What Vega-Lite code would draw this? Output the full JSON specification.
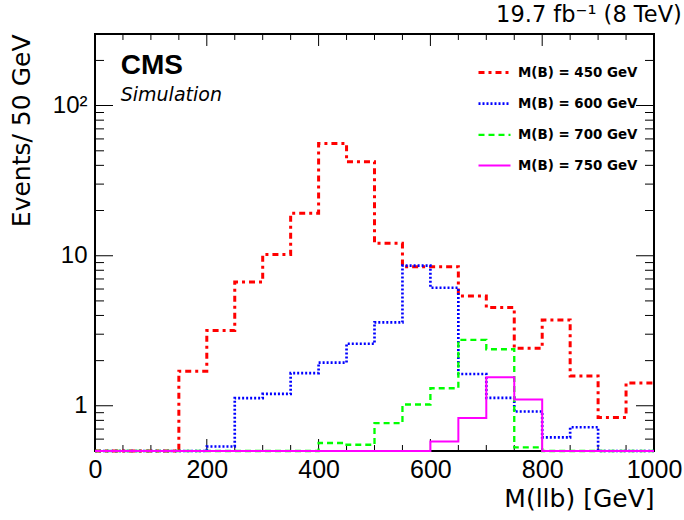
{
  "$schema": "https://vega.github.io/schema/vega-lite/v6.json",
  "autosize": {"type": "none"},
  "padding": {"left": 95, "top": 34, "right": 30, "bottom": 69},
  "width": 559,
  "height": 417,
  "config": {
    "font": "Liberation Sans",
    "view": {"stroke": "black", "strokeWidth": 2},
    "axis": {"grid": false, "domain": false, "ticks": false, "labelColor": "black", "titleColor": "black", "labelFont": "Liberation Sans", "titleFont": "DejaVu Sans", "labelFlush": false, "labelOverlap": false}
  },
  "title": {"text": "19.7 fb⁻¹ (8 TeV)", "anchor": "end", "fontSize": 22.5, "fontWeight": "normal", "font": "DejaVu Sans", "color": "black", "offset": 7},
  "datasets": {
    "hist": [
      {"s": "M(B) = 450 GeV", "x": 0, "y": 0.5},
      {"s": "M(B) = 450 GeV", "x": 50, "y": 0.5},
      {"s": "M(B) = 450 GeV", "x": 100, "y": 0.5},
      {"s": "M(B) = 450 GeV", "x": 150, "y": 1.7},
      {"s": "M(B) = 450 GeV", "x": 200, "y": 3.17},
      {"s": "M(B) = 450 GeV", "x": 250, "y": 6.68},
      {"s": "M(B) = 450 GeV", "x": 300, "y": 10.2},
      {"s": "M(B) = 450 GeV", "x": 350, "y": 19.2},
      {"s": "M(B) = 450 GeV", "x": 400, "y": 56},
      {"s": "M(B) = 450 GeV", "x": 450, "y": 42.2},
      {"s": "M(B) = 450 GeV", "x": 500, "y": 12.1},
      {"s": "M(B) = 450 GeV", "x": 550, "y": 8.45},
      {"s": "M(B) = 450 GeV", "x": 600, "y": 8.45},
      {"s": "M(B) = 450 GeV", "x": 650, "y": 5.4},
      {"s": "M(B) = 450 GeV", "x": 700, "y": 4.51},
      {"s": "M(B) = 450 GeV", "x": 750, "y": 2.42},
      {"s": "M(B) = 450 GeV", "x": 800, "y": 3.73},
      {"s": "M(B) = 450 GeV", "x": 850, "y": 1.58},
      {"s": "M(B) = 450 GeV", "x": 900, "y": 0.836},
      {"s": "M(B) = 450 GeV", "x": 950, "y": 1.42},
      {"s": "M(B) = 450 GeV", "x": 1000, "y": 1.42},
      {"s": "M(B) = 600 GeV", "x": 0, "y": 0.5},
      {"s": "M(B) = 600 GeV", "x": 50, "y": 0.5},
      {"s": "M(B) = 600 GeV", "x": 100, "y": 0.5},
      {"s": "M(B) = 600 GeV", "x": 150, "y": 0.5},
      {"s": "M(B) = 600 GeV", "x": 200, "y": 0.536},
      {"s": "M(B) = 600 GeV", "x": 250, "y": 1.125},
      {"s": "M(B) = 600 GeV", "x": 300, "y": 1.2},
      {"s": "M(B) = 600 GeV", "x": 350, "y": 1.65},
      {"s": "M(B) = 600 GeV", "x": 400, "y": 1.94},
      {"s": "M(B) = 600 GeV", "x": 450, "y": 2.59},
      {"s": "M(B) = 600 GeV", "x": 500, "y": 3.6},
      {"s": "M(B) = 600 GeV", "x": 550, "y": 8.59},
      {"s": "M(B) = 600 GeV", "x": 600, "y": 6.12},
      {"s": "M(B) = 600 GeV", "x": 650, "y": 1.63},
      {"s": "M(B) = 600 GeV", "x": 700, "y": 1.13},
      {"s": "M(B) = 600 GeV", "x": 750, "y": 0.916},
      {"s": "M(B) = 600 GeV", "x": 800, "y": 0.616},
      {"s": "M(B) = 600 GeV", "x": 850, "y": 0.72},
      {"s": "M(B) = 600 GeV", "x": 900, "y": 0.5},
      {"s": "M(B) = 600 GeV", "x": 950, "y": 0.5},
      {"s": "M(B) = 600 GeV", "x": 1000, "y": 0.5},
      {"s": "M(B) = 700 GeV", "x": 0, "y": 0.5},
      {"s": "M(B) = 700 GeV", "x": 50, "y": 0.5},
      {"s": "M(B) = 700 GeV", "x": 100, "y": 0.5},
      {"s": "M(B) = 700 GeV", "x": 150, "y": 0.5},
      {"s": "M(B) = 700 GeV", "x": 200, "y": 0.5},
      {"s": "M(B) = 700 GeV", "x": 250, "y": 0.5},
      {"s": "M(B) = 700 GeV", "x": 300, "y": 0.5},
      {"s": "M(B) = 700 GeV", "x": 350, "y": 0.5},
      {"s": "M(B) = 700 GeV", "x": 400, "y": 0.565},
      {"s": "M(B) = 700 GeV", "x": 450, "y": 0.55},
      {"s": "M(B) = 700 GeV", "x": 500, "y": 0.767},
      {"s": "M(B) = 700 GeV", "x": 550, "y": 1.02},
      {"s": "M(B) = 700 GeV", "x": 600, "y": 1.31},
      {"s": "M(B) = 700 GeV", "x": 650, "y": 2.75},
      {"s": "M(B) = 700 GeV", "x": 700, "y": 2.38},
      {"s": "M(B) = 700 GeV", "x": 750, "y": 0.528},
      {"s": "M(B) = 700 GeV", "x": 800, "y": 0.5},
      {"s": "M(B) = 700 GeV", "x": 850, "y": 0.5},
      {"s": "M(B) = 700 GeV", "x": 900, "y": 0.5},
      {"s": "M(B) = 700 GeV", "x": 950, "y": 0.5},
      {"s": "M(B) = 700 GeV", "x": 1000, "y": 0.5},
      {"s": "M(B) = 750 GeV", "x": 0, "y": 0.5},
      {"s": "M(B) = 750 GeV", "x": 50, "y": 0.5},
      {"s": "M(B) = 750 GeV", "x": 100, "y": 0.5},
      {"s": "M(B) = 750 GeV", "x": 150, "y": 0.5},
      {"s": "M(B) = 750 GeV", "x": 200, "y": 0.5},
      {"s": "M(B) = 750 GeV", "x": 250, "y": 0.5},
      {"s": "M(B) = 750 GeV", "x": 300, "y": 0.5},
      {"s": "M(B) = 750 GeV", "x": 350, "y": 0.5},
      {"s": "M(B) = 750 GeV", "x": 400, "y": 0.5},
      {"s": "M(B) = 750 GeV", "x": 450, "y": 0.5},
      {"s": "M(B) = 750 GeV", "x": 500, "y": 0.5},
      {"s": "M(B) = 750 GeV", "x": 550, "y": 0.5},
      {"s": "M(B) = 750 GeV", "x": 600, "y": 0.579},
      {"s": "M(B) = 750 GeV", "x": 650, "y": 0.828},
      {"s": "M(B) = 750 GeV", "x": 700, "y": 1.55},
      {"s": "M(B) = 750 GeV", "x": 750, "y": 1.1},
      {"s": "M(B) = 750 GeV", "x": 800, "y": 0.5},
      {"s": "M(B) = 750 GeV", "x": 850, "y": 0.5},
      {"s": "M(B) = 750 GeV", "x": 900, "y": 0.5},
      {"s": "M(B) = 750 GeV", "x": 950, "y": 0.5},
      {"s": "M(B) = 750 GeV", "x": 1000, "y": 0.5}
    ],
    "xmajor": [{"x": 200}, {"x": 400}, {"x": 600}, {"x": 800}],
    "xminor": [{"x": 50}, {"x": 100}, {"x": 150}, {"x": 250}, {"x": 300}, {"x": 350}, {"x": 450}, {"x": 500}, {"x": 550}, {"x": 650}, {"x": 700}, {"x": 750}, {"x": 850}, {"x": 900}, {"x": 950}],
    "ymajor": [{"y": 1}, {"y": 10}, {"y": 100}],
    "yminor": [{"y": 0.6}, {"y": 0.7}, {"y": 0.8}, {"y": 0.9}, {"y": 2}, {"y": 3}, {"y": 4}, {"y": 5}, {"y": 6}, {"y": 7}, {"y": 8}, {"y": 9}, {"y": 20}, {"y": 30}, {"y": 40}, {"y": 50}, {"y": 60}, {"y": 70}, {"y": 80}, {"y": 90}, {"y": 200}]
  },
  "layer": [
    {
      "data": {"name": "ymajor"},
      "mark": {"type": "tick", "orient": "horizontal", "clip": true, "color": "black", "thickness": 1, "size": 36, "opacity": 1},
      "encoding": {
        "x": {"datum": 0, "type": "quantitative", "scale": {"domain": [0, 1000], "nice": false, "zero": false}},
        "y": {"field": "y", "type": "quantitative", "scale": {"type": "log", "domain": [0.5, 300], "nice": false}}
      }
    },
    {
      "data": {"name": "yminor"},
      "mark": {"type": "tick", "orient": "horizontal", "clip": true, "color": "black", "thickness": 1, "size": 18, "opacity": 1},
      "encoding": {"x": {"datum": 0, "type": "quantitative"}, "y": {"field": "y", "type": "quantitative"}}
    },
    {
      "data": {"name": "ymajor"},
      "mark": {"type": "tick", "orient": "horizontal", "clip": true, "color": "black", "thickness": 1, "size": 36, "opacity": 1},
      "encoding": {"x": {"datum": 1000, "type": "quantitative"}, "y": {"field": "y", "type": "quantitative"}}
    },
    {
      "data": {"name": "yminor"},
      "mark": {"type": "tick", "orient": "horizontal", "clip": true, "color": "black", "thickness": 1, "size": 18, "opacity": 1},
      "encoding": {"x": {"datum": 1000, "type": "quantitative"}, "y": {"field": "y", "type": "quantitative"}}
    },
    {
      "data": {"name": "xmajor"},
      "mark": {"type": "rule", "color": "black", "strokeWidth": 1, "opacity": 1},
      "encoding": {"x": {"field": "x", "type": "quantitative"}, "y": {"datum": 0.5, "type": "quantitative"}, "y2": {"datum": 0.601}}
    },
    {
      "data": {"name": "xminor"},
      "mark": {"type": "rule", "color": "black", "strokeWidth": 1, "opacity": 1},
      "encoding": {"x": {"field": "x", "type": "quantitative"}, "y": {"datum": 0.5, "type": "quantitative"}, "y2": {"datum": 0.548}}
    },
    {
      "data": {"name": "xmajor"},
      "mark": {"type": "rule", "color": "black", "strokeWidth": 1, "opacity": 1},
      "encoding": {"x": {"field": "x", "type": "quantitative"}, "y": {"datum": 300, "type": "quantitative"}, "y2": {"datum": 249.6}}
    },
    {
      "data": {"name": "xminor"},
      "mark": {"type": "rule", "color": "black", "strokeWidth": 1, "opacity": 1},
      "encoding": {"x": {"field": "x", "type": "quantitative"}, "y": {"datum": 300, "type": "quantitative"}, "y2": {"datum": 273.7}}
    },
    {
      "data": {"name": "hist"},
      "mark": {"type": "line", "interpolate": "step-after"},
      "encoding": {
        "x": {"field": "x", "type": "quantitative", "scale": {"domain": [0, 1000], "nice": false, "zero": false},
          "axis": {"orient": "bottom", "values": [0, 200, 400, 600, 800, 1000], "format": "d", "labelFontSize": 25, "labelPadding": 6, "title": "M(llb) [GeV]", "titleFontSize": 25, "titleFontWeight": "normal", "titleAnchor": "end", "titleAlign": "right", "titlePadding": 4}},
        "y": {"field": "y", "type": "quantitative", "scale": {"type": "log", "domain": [0.5, 300], "nice": false},
          "axis": {"orient": "left", "values": [1, 10, 100], "labelExpr": "datum.value == 100 ? '10²' : datum.value == 10 ? '10' : '1'", "labelFontSize": 24, "labelPadding": 8, "title": "Events/ 50 GeV", "titleFontSize": 25, "titleFontWeight": "normal", "titleAnchor": "end", "titlePadding": 18}},
        "color": {"field": "s", "type": "nominal", "sort": null,
          "scale": {"domain": ["M(B) = 450 GeV", "M(B) = 600 GeV", "M(B) = 700 GeV", "M(B) = 750 GeV"], "range": ["#ff0000", "#0000ff", "#00ff00", "#ff00ff"]},
          "legend": {"title": null, "orient": "none", "legendX": 382, "legendY": 21, "symbolType": "stroke", "symbolSize": 1024, "symbolStrokeWidth": 3, "labelFontSize": 13.4, "labelFontWeight": "bold", "labelFont": "DejaVu Sans", "labelColor": "black", "labelOffset": 6, "rowPadding": 7.2}},
        "strokeDash": {"field": "s", "type": "nominal", "sort": null,
          "scale": {"domain": ["M(B) = 450 GeV", "M(B) = 600 GeV", "M(B) = 700 GeV", "M(B) = 750 GeV"], "range": [[6, 4, 3, 4], [2, 2], [6, 4], [1, 0]]},
          "legend": {"title": null, "orient": "none", "legendX": 382, "legendY": 21, "symbolType": "stroke", "symbolSize": 1024, "symbolStrokeWidth": 3, "labelFontSize": 13.4, "labelFontWeight": "bold", "labelFont": "DejaVu Sans", "labelColor": "black", "labelOffset": 6, "rowPadding": 7.2}},
        "strokeWidth": {"field": "s", "type": "nominal", "sort": null,
          "scale": {"domain": ["M(B) = 450 GeV", "M(B) = 600 GeV", "M(B) = 700 GeV", "M(B) = 750 GeV"], "range": [3, 2, 3, 2]},
          "legend": null}
      }
    },
    {
      "data": {"values": [{}]},
      "mark": {"type": "text", "text": "CMS", "fontSize": 28, "fontWeight": "bold", "align": "left", "baseline": "alphabetic", "color": "black", "font": "Liberation Sans"},
      "encoding": {
        "x": {"datum": 46, "type": "quantitative"},
        "y": {"datum": 163, "type": "quantitative"}
      }
    },
    {
      "data": {"values": [{}]},
      "mark": {"type": "text", "text": "Simulation", "fontSize": 19, "fontStyle": "italic", "align": "left", "baseline": "alphabetic", "color": "black", "font": "DejaVu Sans"},
      "encoding": {
        "x": {"datum": 46, "type": "quantitative"},
        "y": {"datum": 107, "type": "quantitative"}
      }
    }
  ]
}
